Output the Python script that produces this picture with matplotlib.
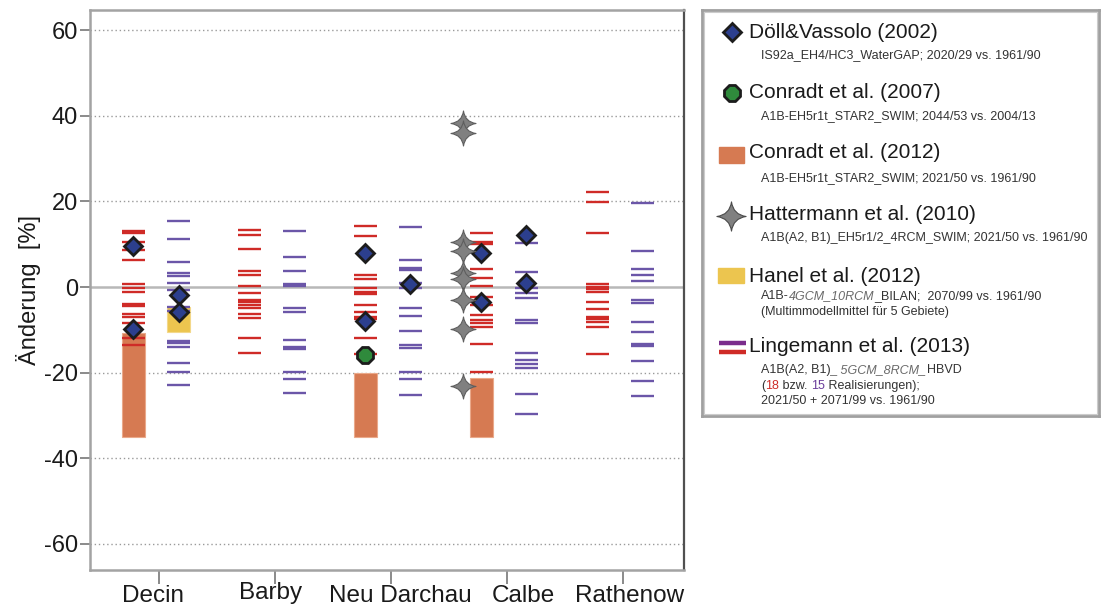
import numpy as np
import matplotlib
matplotlib.use("Agg")
import matplotlib.pyplot as plt
from matplotlib.path import Path
from matplotlib.patches import Rectangle
from matplotlib.transforms import ScaledTranslation

plt.rcParams['font.family'] = ['Liberation Sans', 'DejaVu Sans']

# ---------------------------------------------------------------- data
stations = ['Decin', 'Barby', 'Neu Darchau', 'Calbe', 'Rathenow']

# Lingemann et al. (2013): 2021/50 realisations (red) and 2071/99 (purple)
ling_near = [
    [13.1, 12.5, 10.6, 8.6, 6.3, 0.7, -0.2, -1.1, -3.9, -4.4, -6.3, -6.9, -8.3, -11.8, -13.6],
    [13.2, 12.1, 8.8, 3.7, 2.8, 0.2, -1.5, -3.0, -3.6, -4.1, -5.0, -6.4, -7.2, -11.8, -15.3],
    [14.3, 11.9, 2.8, 1.8, -0.3, -1.1, -1.6, -4.2, -5.8, -6.9, -7.4, -11.8, -15.7],
    [12.5, 10.6, 10.0, 4.1, 2.0, 0.3, -2.3, -4.2, -6.5, -7.7, -8.5, -9.3, -13.2, -19.8],
    [22.1, 19.8, 12.5, 0.7, 0.1, -0.5, -1.2, -3.4, -5.1, -6.9, -7.5, -8.2, -9.4, -15.7],
]
ling_far = [
    [15.4, 11.1, 5.9, 3.2, 2.6, 0.9, -0.7, -4.7, -5.5, -12.6, -13.0, -13.9, -17.7, -19.8, -22.9],
    [13.1, 7.1, 3.8, 0.7, 0.3, -4.8, -5.8, -12.4, -14.1, -14.5, -19.8, -21.6, -24.7],
    [14.1, 6.3, 4.4, 4.0, 1.0, -0.2, -5.0, -6.8, -10.2, -13.6, -14.2, -19.9, -21.6, -25.2],
    [10.2, 3.6, -0.3, -1.5, -2.6, -7.6, -8.3, -15.3, -17.1, -18.0, -19.0, -25.0, -29.7],
    [19.7, 8.3, 4.1, 2.8, 1.5, -3.0, -3.7, -8.2, -10.4, -13.2, -13.7, -17.4, -21.9, -25.5],
]

# Döll & Vassolo (2002)
doll_station = [0, 0, 0, 0, 2, 2, 2, 3, 3, 3, 3]
doll_column = ['near', 'near', 'far', 'far', 'near', 'near', 'far', 'near', 'near', 'far', 'far']
doll_value = [9.6, -9.7, -1.9, -5.8, 8.0, -7.9, 0.6, 8.0, -3.4, 12.1, 0.9]

# Conradt et al. (2007)
conradt07_station = [2]
conradt07_value = [-15.9]

# Conradt et al. (2012): ranges
conradt12_station = [0, 2, 3]
conradt12_low = [-35.0, -35.0, -35.0]
conradt12_high = [-10.8, -20.2, -21.3]

# Hanel et al. (2012): range
hanel_station = [0]
hanel_low = [-10.6]
hanel_high = [-4.7]

# Hattermann et al. (2010)
hatt_station = 3
hatt_value = [38.2, 36.0, 10.6, 8.3, 3.3, 1.8, -3.0, -9.7, -23.1]

# ---------------------------------------------------------------- style
RED = '#cf2b27'
PURPLE = '#6b56a8'
ORANGE = '#d67a52'
YELLOW = '#ecc54f'
BLUE = '#2c3f8e'
GREEN = '#2f8a3c'
GREY_STAR = '#808080'

near_off, far_off, half = -0.22, 0.17, 0.10
hatt_off = -0.38

# four-pointed star with concave sides
s = 0.12
star_path = Path(
    [(0, 1), (s, s), (1, 0), (s, -s), (0, -1), (-s, -s), (-1, 0), (-s, s), (0, 1), (0, 1)],
    [Path.MOVETO, Path.CURVE3, Path.CURVE3, Path.CURVE3, Path.CURVE3,
     Path.CURVE3, Path.CURVE3, Path.CURVE3, Path.CURVE3, Path.CLOSEPOLY])

W, H = 1106, 607
fig = plt.figure(figsize=(W / 100, H / 100), dpi=100)
ax = fig.add_axes([90 / W, 1 - 570 / H, (684 - 90) / W, (570 - 10) / H])

# grid and zero line
for yv in [-60, -40, -20, 20, 40, 60]:
    ax.axhline(yv, color='#9a9a9a', lw=1.0, ls=(0, (1, 2)), zorder=1)
ax.axhline(0, color='#b8b8b8', lw=1.8, zorder=1)

pos = np.arange(len(stations))

# ranges
ax.bar(pos[conradt12_station] + near_off,
       np.array(conradt12_high) - np.array(conradt12_low),
       bottom=conradt12_low, width=0.2, color=ORANGE,
       edgecolor='#eaa98a', lw=0.8, zorder=2)
ax.bar(pos[hanel_station] + far_off,
       np.array(hanel_high) - np.array(hanel_low),
       bottom=hanel_low, width=0.2, color=YELLOW,
       edgecolor='#f3d88a', lw=0.8, zorder=2)

# realisations
for i in range(len(stations)):
    xr = i + near_off
    xp = i + far_off
    ax.hlines(ling_near[i], xr - half, xr + half, color=RED, lw=1.7, zorder=3)
    ax.hlines(ling_far[i], xp - half, xp + half, color=PURPLE, lw=1.7, zorder=3)

# point markers
doll_x = [pos[st] + (near_off if c == 'near' else far_off)
          for st, c in zip(doll_station, doll_column)]
ax.plot(doll_x, doll_value, ls='none', marker='D', ms=9, mfc=BLUE,
        mec='#1c1c1c', mew=2.0, zorder=5)
ax.plot(pos[conradt07_station] + near_off, conradt07_value, ls='none',
        marker='8', ms=12, mfc=GREEN, mec='#1c1c1c', mew=2.0, zorder=5)
ax.plot([hatt_station + hatt_off] * len(hatt_value), hatt_value, ls='none',
        marker=star_path, ms=18, mfc=GREY_STAR, mec='#5e5e5e', mew=0.8, zorder=6)

ax.set_xlim(-0.593, 4.528)
ax.set_ylim(-66.1, 64.7)
ax.set_yticks([-60, -40, -20, 0, 20, 40, 60])
ax.set_yticklabels(['-60', '-40', '-20', '0', '20', '40', '60'])
ax.set_xticks(pos)
ax.set_xticklabels(stations)
ax.tick_params(axis='y', direction='out', length=7, width=1.2, color='#777777',
               labelsize=17, pad=1.5, labelcolor='#1a1a1a')
ax.tick_params(axis='x', direction='out', length=10, width=1.2, color='#777777',
               labelsize=17.5, pad=1, labelcolor='#1a1a1a')
# station names sit slightly off their ticks so they do not collide
label_shift = [(-6, 0), (-4, 3), (10, 0), (17, 0), (7, 0)]
for lbl, (dx, dy) in zip(ax.get_xticklabels(), label_shift):
    lbl.set_transform(lbl.get_transform() +
                      ScaledTranslation(dx / 100, dy / 100, fig.dpi_scale_trans))
ax.set_ylabel('Änderung  [%]', fontsize=17, color='#1a1a1a', labelpad=2)
for side in ['left', 'top', 'bottom']:
    ax.spines[side].set_color('#a3a3a3')
    ax.spines[side].set_linewidth(1.8)
ax.spines['right'].set_color('#505050')
ax.spines['right'].set_linewidth(1.6)

# ---------------------------------------------------------------- key box
lax = fig.add_axes([702 / W, 1 - 416 / H, (1099 - 702) / W, (416 - 10) / H])
lax.set_xlim(702, 1099)
lax.set_ylim(416, 10)
lax.set_xticks([])
lax.set_yticks([])
for sp in lax.spines.values():
    sp.set_color('#a0a0a0')
    sp.set_linewidth(2.0)
lax.add_patch(Rectangle((704, 12), 393, 402, fill=False, ec='#cccccc', lw=0.8))

renderer = fig.canvas.get_renderer()


def text_width(s, size, **kw):
    probe = 'l'
    t1 = lax.text(0, 0, probe + s + probe, fontsize=size, **kw)
    t2 = lax.text(0, 0, probe + probe, fontsize=size, **kw)
    w = t1.get_window_extent(renderer).width - t2.get_window_extent(renderer).width
    t1.remove()
    t2.remove()
    return w


def text_run(x, y, pieces, size=9):
    for s, kw in pieces:
        lax.text(x, y, s, fontsize=size, va='center', ha='left', **kw)
        x += text_width(s, size, **kw)


TITLE = dict(fontsize=15, va='center', ha='left', color='#1a1a1a')
SUB = dict(color='#333333')
ITAL = dict(color='#6a6a6a', style='italic')
TX, SX = 749, 761

lax.plot([731.5], [32], marker='D', ms=9.5, mfc=BLUE, mec='#1c1c1c', mew=2.0, ls='none')
lax.text(TX, 32, 'Döll&Vassolo (2002)', **TITLE)
text_run(SX, 55, [('IS92a_EH4/HC3_WaterGAP; 2020/29 vs. 1961/90', SUB)])

lax.plot([731.5], [93], marker='8', ms=12.5, mfc=GREEN, mec='#1c1c1c', mew=2.0, ls='none')
lax.text(TX, 92, 'Conradt et al. (2007)', **TITLE)
text_run(SX, 116, [('A1B-EH5r1t_STAR2_SWIM; 2044/53 vs. 2004/13', SUB)])

lax.add_patch(Rectangle((719, 147), 25, 16, color=ORANGE))
lax.text(TX, 152, 'Conradt et al. (2012)', **TITLE)
text_run(SX, 178, [('A1B-EH5r1t_STAR2_SWIM; 2021/50 vs. 1961/90', SUB)])

lax.plot([731], [216], marker=star_path, ms=21, mfc=GREY_STAR, mec='#4a4a4a', mew=0.8, ls='none')
lax.text(TX, 215, 'Hattermann et al. (2010)', **TITLE)
text_run(SX, 238, [('A1B(A2, B1)_EH5r1/2_4RCM_SWIM; 2021/50 vs. 1961/90', SUB)])

lax.add_patch(Rectangle((718, 268), 26, 15, color=YELLOW))
lax.text(TX, 276, 'Hanel et al. (2012)', **TITLE)
text_run(SX, 296, [('A1B-', SUB), ('4GCM_10RCM', ITAL), ('_BILAN;  2070/99 vs. 1961/90', SUB)])
text_run(SX, 312, [('(Multimmodellmittel für 5 Gebiete)', SUB)])

lax.plot([719, 746], [343, 343], color='#7b2c8c', lw=3.2, solid_capstyle='butt')
lax.plot([719, 746], [352, 352], color=RED, lw=3.2, solid_capstyle='butt')
lax.text(TX, 347, 'Lingemann et al. (2013)', **TITLE)
text_run(SX, 370, [('A1B(A2, B1)', SUB), ('_ 5GCM_8RCM_', ITAL), ('HBVD', SUB)])
text_run(SX, 386, [('(', SUB), ('18', dict(color=RED)), (' bzw. ', SUB),
                   ('15', dict(color='#6a3d9a')), (' Realisierungen);', SUB)])
text_run(SX, 401, [('2021/50 + 2071/99 vs. 1961/90', SUB)])

fig.savefig('out.png', dpi=100)
